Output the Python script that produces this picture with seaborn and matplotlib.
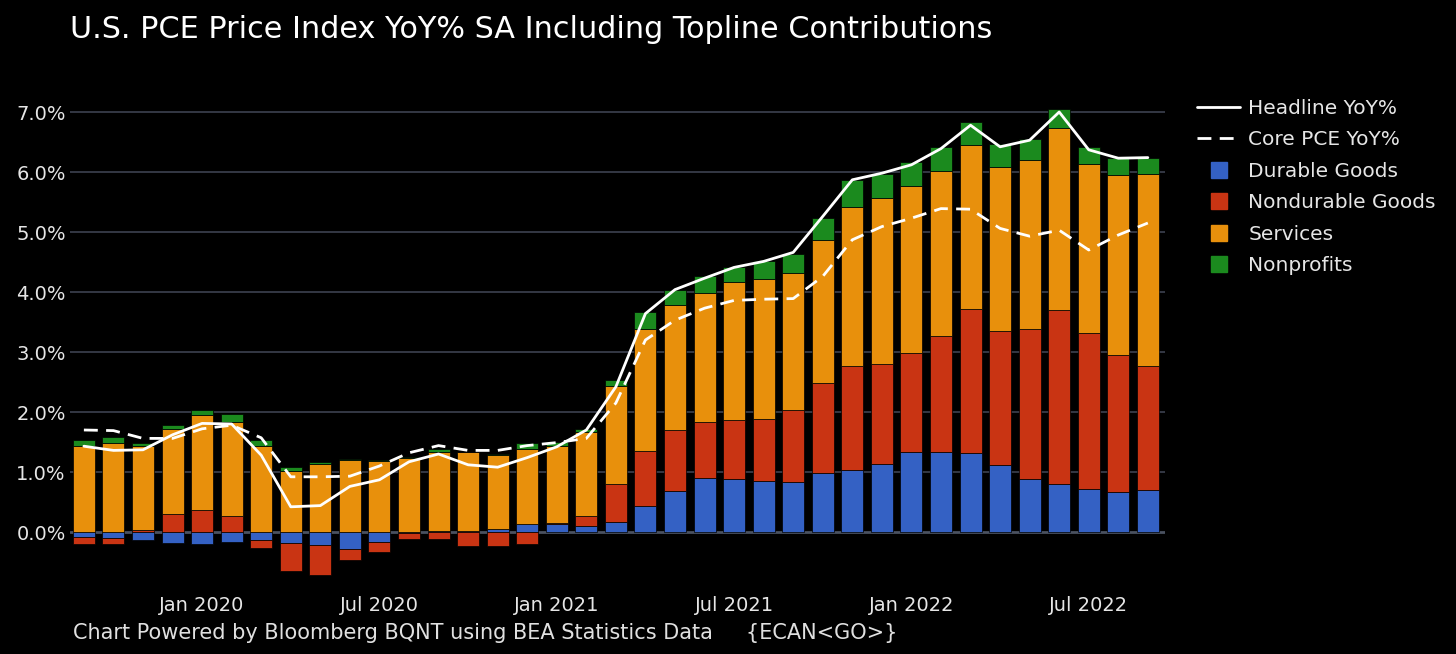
import numpy as np
import pandas as pd
import matplotlib
matplotlib.use("Agg")
import matplotlib.pyplot as plt
from matplotlib.lines import Line2D
import seaborn as sns


# monthly data, Sep 2019 - Sep 2022 (contributions in pp, YoY %)
months = pd.date_range("2019-09-01", "2022-09-01", freq="MS").strftime("%b %Y").tolist()

durable = [-0.08, -0.10, -0.13, -0.19, -0.20, -0.16, -0.14, -0.19, -0.21, -0.29,
           -0.16, -0.01, 0.01, 0.01, 0.05, 0.14, 0.14, 0.10, 0.17, 0.44,
           0.69, 0.90, 0.88, 0.85, 0.84, 0.99, 1.04, 1.13, 1.34, 1.34,
           1.32, 1.11, 0.89, 0.80, 0.72, 0.66, 0.70]
nondurable = [-0.12, -0.10, 0.03, 0.30, 0.36, 0.26, -0.13, -0.46, -0.50, -0.18,
              -0.17, -0.11, -0.12, -0.23, -0.24, -0.20, 0.01, 0.17, 0.63, 0.91,
              1.01, 0.93, 0.98, 1.03, 1.19, 1.49, 1.72, 1.67, 1.64, 1.93,
              2.39, 2.24, 2.49, 2.90, 2.60, 2.29, 2.06]
services = [1.44, 1.48, 1.41, 1.41, 1.59, 1.58, 1.43, 1.02, 1.14, 1.20,
            1.19, 1.24, 1.33, 1.32, 1.24, 1.25, 1.28, 1.40, 1.63, 2.04,
            2.08, 2.15, 2.31, 2.33, 2.28, 2.38, 2.65, 2.77, 2.78, 2.74,
            2.74, 2.74, 2.82, 3.04, 2.81, 3.00, 3.21]
nonprofits = [0.10, 0.11, 0.05, 0.08, 0.08, 0.12, 0.11, 0.06, 0.02, 0.01,
              0.01, 0.01, 0.04, 0.01, 0.01, 0.10, 0.07, 0.04, 0.11, 0.27,
              0.26, 0.28, 0.24, 0.30, 0.33, 0.37, 0.46, 0.40, 0.40, 0.41,
              0.39, 0.37, 0.35, 0.31, 0.28, 0.28, 0.26]
headline = [1.43, 1.36, 1.37, 1.62, 1.81, 1.80, 1.28, 0.42, 0.44, 0.76,
            0.87, 1.17, 1.30, 1.12, 1.08, 1.24, 1.42, 1.70, 2.42, 3.64,
            4.04, 4.23, 4.41, 4.51, 4.66, 5.26, 5.87, 5.98, 6.12, 6.39,
            6.78, 6.42, 6.53, 7.00, 6.37, 6.23, 6.24]
core = [1.70, 1.69, 1.56, 1.56, 1.72, 1.78, 1.57, 0.92, 0.92, 0.93,
        1.10, 1.32, 1.44, 1.36, 1.36, 1.44, 1.49, 1.56, 2.15, 3.20,
        3.53, 3.73, 3.86, 3.88, 3.89, 4.26, 4.87, 5.09, 5.23, 5.39,
        5.38, 5.06, 4.93, 5.03, 4.70, 4.95, 5.15]

tick_labels = ["Jan 2020", "Jul 2020", "Jan 2021", "Jul 2021", "Jan 2022", "Jul 2022"]

components = [("Durable Goods", durable, "#3461c4"),
              ("Nondurable Goods", nondurable, "#c93413"),
              ("Services", services, "#e8900c"),
              ("Nonprofits", nonprofits, "#1b8a1e")]

sns.set_theme(style="dark")
plt.rcParams["font.family"] = ["DejaVu Sans"]
plt.rcParams["text.color"] = "#e6e6e6"

fig = plt.figure(figsize=(14.56, 6.54), dpi=100, facecolor="black")
ax = fig.add_axes([70 / 1456, 1 - 589 / 654, (1165 - 70) / 1456, (589 - 88) / 654])
ax.set_facecolor("black")

# relative stacking: positives up from 0, negatives down from 0
pos_base = np.zeros(len(months))
neg_base = np.zeros(len(months))
for name, vals, col in components:
    vals = np.array(vals)
    bottom = np.where(vals >= 0, pos_base, neg_base)
    sns.barplot(x=months, y=vals, bottom=bottom, color=col, width=0.745,
                errorbar=None, edgecolor="black", linewidth=0.5, saturation=1, ax=ax)
    pos_base = pos_base + np.where(vals >= 0, vals, 0)
    neg_base = neg_base + np.where(vals < 0, vals, 0)

x = np.arange(len(months))
sns.lineplot(x=x, y=headline, color="white", linewidth=2.0, ax=ax)
sns.lineplot(x=x, y=core, color="white", linewidth=2.0, linestyle=(0, (5, 3)), ax=ax)

ax.set_xlim(-0.47, 36.58)
ax.set_ylim(-0.95, 7.4)
ax.set_yticks(range(8))
ax.set_yticklabels([f"{v:.1f}%" for v in range(8)])
ax.set_xticks([months.index(t) for t in tick_labels])
ax.set_xticklabels(tick_labels)
ax.tick_params(axis="both", colors="#e6e6e6", labelsize=14, length=0)
ax.tick_params(axis="y", pad=3)
ax.tick_params(axis="x", pad=5)
ax.set_xlabel("")
ax.set_ylabel("")
ax.grid(False)
for v in range(1, 8):
    ax.axhline(v, color="#3d4250", linewidth=1.2, zorder=0)
ax.axhline(0, color="#4a5160", linewidth=2.0, zorder=0.5)
for s in ax.spines.values():
    s.set_visible(False)

handles = [Line2D([], [], color="white", linewidth=2.0),
           Line2D([], [], color="white", linewidth=2.0, linestyle=(0, (5, 3)))]
for name, vals, col in components:
    handles.append(Line2D([], [], color=col, marker="s", linestyle="", markersize=12))
labels = ["Headline YoY%", "Core PCE YoY%"] + [c[0] for c in components]
fig.legend(handles, labels, loc="upper left", bbox_to_anchor=(1197 / 1456, 1 - 99 / 654),
           frameon=False, fontsize=14.5, handlelength=2.14, handletextpad=0.4,
           labelspacing=0.62, borderpad=0, borderaxespad=0, labelcolor="#e6e6e6")

fig.text(70 / 1456, 1 - 30 / 654, "U.S. PCE Price Index YoY% SA Including Topline Contributions",
         fontsize=21.8, color="white", va="center", ha="left")
fig.text(73 / 1456, 1 - 633 / 654,
         "Chart Powered by Bloomberg BQNT using BEA Statistics Data     {ECAN<GO>}",
         fontsize=15, color="#e0e0e0", va="center", ha="left")

fig.savefig("out.png", dpi=100, facecolor="black")
